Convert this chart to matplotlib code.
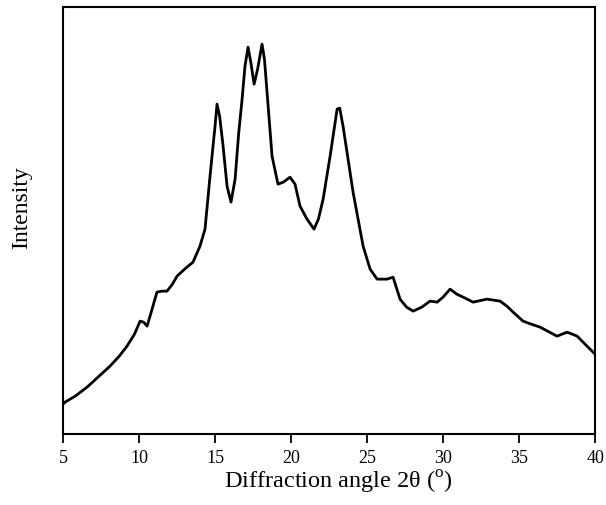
import matplotlib
matplotlib.use("Agg")
import matplotlib.pyplot as plt

plt.rcParams['font.family'] = ['Liberation Serif', 'DejaVu Serif']
plt.rcParams['mathtext.fontset'] = 'custom'
plt.rcParams['mathtext.rm'] = 'Liberation Serif'

# diffraction angle (2theta, deg) and intensity (arb. units)
angle = [5.0, 5.13, 5.8, 6.58, 7.3, 8.09, 8.7, 9.21, 9.7, 10.07, 10.3, 10.53,
         10.8, 11.18, 11.5, 11.84, 12.2, 12.5, 13.0, 13.55, 14.01, 14.34,
         14.67, 15.0, 15.13, 15.3, 15.53, 15.79, 16.05, 16.32, 16.55, 16.78,
         16.97, 17.17, 17.35, 17.57, 17.8, 18.09, 18.25, 18.42, 18.75, 19.14,
         19.5, 19.93, 20.26, 20.59, 21.05, 21.51, 21.8, 22.11, 22.57, 23.03,
         23.2, 23.42, 23.75, 24.08, 24.74, 25.2, 25.66, 26.32, 26.71, 27.17,
         27.6, 28.03, 28.6, 29.14, 29.61, 30.0, 30.46, 30.9, 31.32, 31.97,
         32.89, 33.75, 34.2, 34.61, 35.26, 35.8, 36.38, 37.0, 37.5, 38.16,
         38.82, 39.47, 40.0]
intensity = [30, 32, 38, 47, 57, 68, 78, 88, 100, 113, 112, 108,
             122, 142, 143, 143, 150, 158, 165, 172, 188, 205,
             258, 308, 330, 318, 288, 248, 232, 255, 300, 335,
             368, 387, 372, 350, 365, 390, 375, 342, 278, 250,
             252, 257, 250, 228, 215, 205, 215, 235, 278, 325,
             326, 308, 275, 242, 188, 165, 155, 155, 157, 135,
             127, 123, 127, 133, 132, 137, 145, 140, 137, 132,
             135, 133, 128, 122, 113, 110, 107, 102, 98, 102,
             98, 88, 80]

fig = plt.figure(figsize=(6.06, 5.06), dpi=100)
ax = fig.add_axes([0.104, 0.140, 0.878, 0.844])
ax.plot(angle, intensity, color='black', linewidth=2.0)

ax.set_xlim(5, 40)
ax.set_ylim(0, 427)
ax.set_xticks([5, 10, 15, 20, 25, 30, 35, 40])
ax.set_yticks([])
ax.tick_params(axis='x', direction='out', length=6.5, width=1.3, labelsize=13, pad=4)
for s in ax.spines.values():
    s.set_linewidth(1.5)

ax.set_xlabel(r'Diffraction angle 2θ ($^{\rm o}$)', fontsize=17.5)
ax.xaxis.set_label_coords(0.517, -0.080)
ax.set_ylabel('Intensity', fontsize=17)
ax.yaxis.set_label_coords(-0.058, 0.532)

fig.savefig('out.png', dpi=100)
